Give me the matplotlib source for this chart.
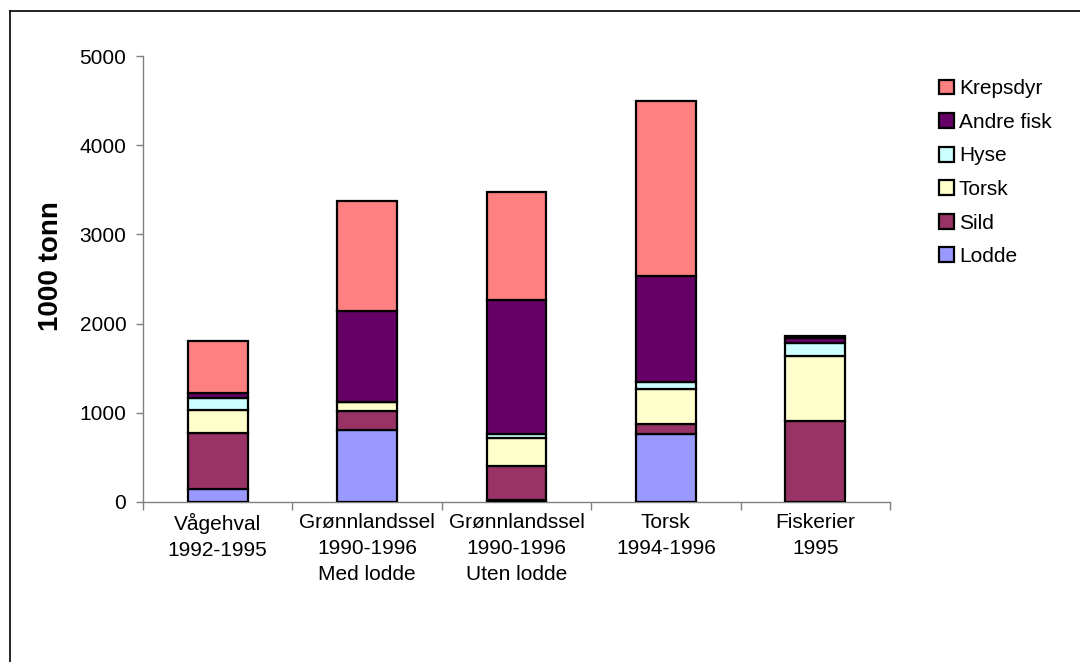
import matplotlib.pyplot as plt
import numpy as np
from matplotlib.lines import Line2D

plt.rcParams["font.family"] = ["Liberation Sans", "DejaVu Sans"]

categories = ["Vågehval\n1992-1995", "Grønnlandssel\n1990-1996\nMed lodde",
              "Grønnlandssel\n1990-1996\nUten lodde", "Torsk\n1994-1996",
              "Fiskerier\n1995"]

# consumption per prey group, 1000 tonn (bottom to top)
lodde = [142, 810, 20, 766, 0]
sild = [628, 213, 385, 109, 904]
torsk = [261, 97, 314, 392, 736]
hyse = [131, 0, 38, 82, 142]
andre_fisk = [56, 1016, 1506, 1188, 60]
krepsdyr = [590, 1233, 1207, 1954, 22]

series = [
    ("Lodde", lodde, "#9999FF"),
    ("Sild", sild, "#993366"),
    ("Torsk", torsk, "#FFFFCC"),
    ("Hyse", hyse, "#CCFFFF"),
    ("Andre fisk", andre_fisk, "#660066"),
    ("Krepsdyr", krepsdyr, "#FF8080"),
]

fig = plt.figure(figsize=(10.8, 6.62), dpi=100)
ax = fig.add_axes([0.1324, 0.2417, 0.824 - 0.1324, 0.9154 - 0.2417])

x = np.arange(len(categories))
bottom = np.zeros(len(categories))
handles = []
for name, vals, color in series:
    vals = np.array(vals, dtype=float)
    b = ax.bar(x, vals, 0.4, bottom=bottom, color=color, edgecolor="black",
               linewidth=1.6, label=name, zorder=3)
    handles.append(b)
    bottom += vals

ax.set_xlim(-0.5, len(categories) - 0.5)
ax.set_ylim(0, 5000)
ax.set_yticks(range(0, 5001, 1000))
ax.tick_params(axis="y", direction="out", length=5, width=1, color="#808080",
               labelsize=15, pad=7)

ax.set_xticks(x)
ax.set_xticklabels(categories, fontsize=15, linespacing=1.45)
ax.tick_params(axis="x", which="major", length=0, pad=8)
ax.set_xticks(np.arange(-0.5, len(categories), 1.0), minor=True)
ax.tick_params(axis="x", which="minor", direction="out", length=6, width=1,
               color="#808080")

for side in ("top", "right"):
    ax.spines[side].set_visible(False)
for side in ("left", "bottom"):
    ax.spines[side].set_color("#808080")
    ax.spines[side].set_linewidth(1)

ax.set_ylabel("1000 tonn", fontsize=20, fontweight="bold")
ax.yaxis.set_label_coords(-0.106, 0.53)

leg = ax.legend(handles[::-1], [s[0] for s in series][::-1],
                loc="upper left", bbox_to_anchor=(1.04, 0.99), frameon=False,
                fontsize=15, handlelength=0.72, handleheight=0.72,
                handletextpad=0.25, labelspacing=0.70)

# outer chart border
fig.add_artist(Line2D([10 / 1080, 10 / 1080], [0, 1 - 11 / 662],
                      transform=fig.transFigure, color="black", linewidth=1.2))
fig.add_artist(Line2D([10 / 1080, 1], [1 - 11 / 662, 1 - 11 / 662],
                      transform=fig.transFigure, color="black", linewidth=1.2))

fig.savefig("out.png", dpi=100)
